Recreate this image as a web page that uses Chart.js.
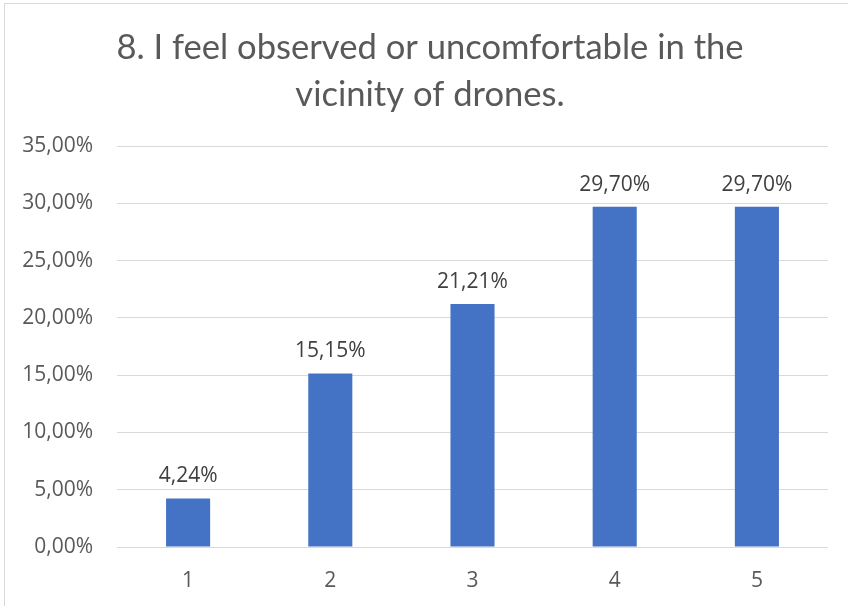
<!DOCTYPE html>
<html>
<head>
<meta charset="utf-8">
<script src="https://cdn.jsdelivr.net/npm/chart.js@4/dist/chart.umd.min.js"></script>
<style>
  html, body { margin: 0; padding: 0; background: #fff; overflow: hidden; }
  #frame { position: absolute; left: 4px; top: 3px; width: 900px; height: 700px;
           border-left: 1px solid #d9d9d9; border-top: 1px solid #d9d9d9; }
  #wrap { position: absolute; left: 0; top: 0; width: 848px; height: 606px; }
</style>
</head>
<body>
<div id="frame"></div>
<div id="wrap"><canvas id="c" width="848" height="606"></canvas></div>
<script>
const categories = ['1', '2', '3', '4', '5'];
const shares = [4.24, 15.15, 21.21, 29.70, 29.70];
const titleLines = ['8. I feel observed or uncomfortable in the', 'vicinity of drones.'];

const fmt = v => v.toFixed(2).replace('.', ',') + '%';

// chart heading, two centred lines above the plot
const heading = {
  id: 'heading',
  afterDraw(chart) {
    const ctx = chart.ctx;
    ctx.save();
    ctx.font = '400 34.6px Lato';
    ctx.fillStyle = '#595959';
    ctx.textAlign = 'center';
    ctx.textBaseline = 'alphabetic';
    ctx.fillText(titleLines[0], 430, 59);
    ctx.fillText(titleLines[1], 430, 106);
    ctx.restore();
  }
};

// writes each bar's value just above it
const valueLabels = {
  id: 'valueLabels',
  afterDatasetsDraw(chart) {
    const ctx = chart.ctx;
    const meta = chart.getDatasetMeta(0);
    ctx.save();
    ctx.font = '21px "Open Sans"';
    ctx.fillStyle = '#404040';
    ctx.textAlign = 'center';
    ctx.textBaseline = 'alphabetic';
    meta.data.forEach((bar, i) => {
      ctx.fillText(fmt(shares[i]), bar.x, bar.y - 16);
    });
    ctx.restore();
  }
};

new Chart(document.getElementById('c'), {
  type: 'bar',
  data: {
    labels: categories,
    datasets: [{
      data: shares,
      backgroundColor: '#4472c4',
      barPercentage: 0.62,
      categoryPercentage: 0.5
    }]
  },
  options: {
    responsive: false,
    animation: false,
    layout: { padding: { left: 0, right: 20, top: 146, bottom: 0 } },
    plugins: {
      legend: { display: false },
      tooltip: { enabled: false },
      title: { display: false }
    },
    scales: {
      x: {
        grid: { display: false },
        border: { display: false },
        ticks: { color: '#595959', font: { family: 'Open Sans', size: 21 }, padding: 13 },
        afterFit(s) { s.height = 59; }
      },
      y: {
        min: 0, max: 35,
        grid: { color: '#d9d9d9', lineWidth: 1, drawTicks: false },
        border: { display: false },
        ticks: {
          stepSize: 5,
          color: '#595959',
          font: { family: 'Open Sans', size: 21 },
          padding: 24,
          callback: v => fmt(v)
        },
        afterFit(s) { s.width = 117; }
      }
    }
  },
  plugins: [valueLabels, heading]
});
</script>
</body>
</html>
